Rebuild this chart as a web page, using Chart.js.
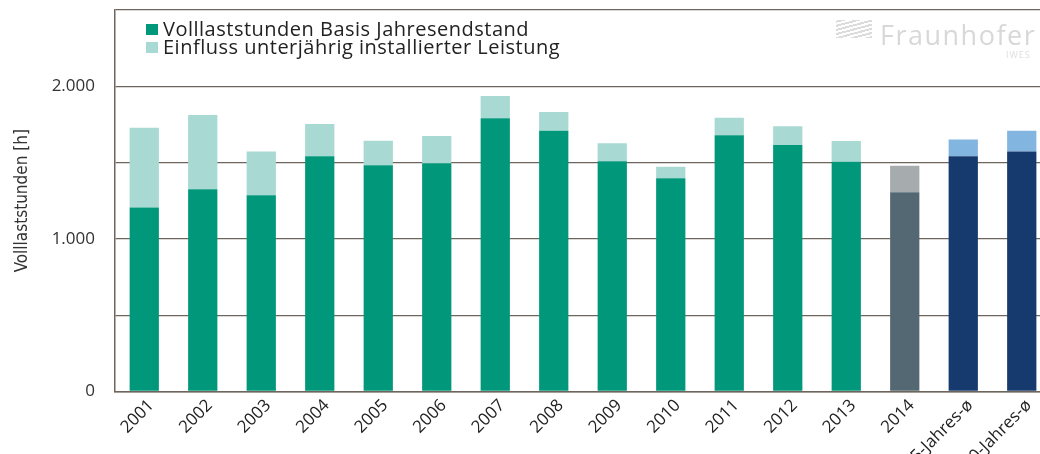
<!DOCTYPE html>
<html>
<head>
<meta charset="utf-8">
<script src="https://cdn.jsdelivr.net/npm/chart.js@4.4.1/dist/chart.umd.min.js"></script>
<style>
  html, body { margin: 0; padding: 0; background: #fff; overflow: hidden; width: 1040px; height: 454px; }
  #wrap { position: absolute; left: 0; top: 0; width: 1056px; height: 454px; }
  #legend { position: absolute; left: 146px; top: 20px; font-family: "Open Sans", sans-serif; font-size: 20px; letter-spacing: 0.5px; color: #222; line-height: 18px; }
  #legend div { display: flex; align-items: center; height: 18px; white-space: nowrap; }
  #legend span.sw { display: inline-block; width: 12px; height: 11px; margin-right: 5px; }
  #logo { position: absolute; left: 880px; top: 16px; font-family: "Open Sans", sans-serif; font-size: 27px; color: #d8d8d8; letter-spacing: 1.5px; }
  #iwes { position: absolute; left: 1006px; top: 48px; font-family: "Open Sans", sans-serif; font-size: 9px; color: #dedede; letter-spacing: 1px; }
  #stripes { position: absolute; left: 836px; top: 20px; width: 36px; height: 18px;
    background: repeating-linear-gradient(-15deg, #dcdcdc 0 2px, #fff 2px 4px); }
</style>
</head>
<body>
<div id="wrap"><canvas id="c" width="1056" height="454"></canvas></div>
<div id="legend">
  <div><span class="sw" style="background:#00977a"></span>Volllaststunden Basis Jahresendstand</div>
  <div><span class="sw" style="background:#a9d9d3"></span>Einfluss unterjährig installierter Leistung</div>
</div>
<div id="stripes"></div>
<div id="logo">Fraunhofer</div>
<div id="iwes">IWES</div>
<script>
const categories = ["2001","2002","2003","2004","2005","2006","2007","2008","2009","2010","2011","2012","2013","2014","5-Jahres-ø","10-Jahres-ø"];
const baseHours  = [1206,1325,1286,1541,1482,1496,1790,1709,1509,1398,1679,1616,1506,1306,1541,1572];
const extraHours = [522,487,286,212,162,178,146,122,117,74,115,122,136,174,111,137];
const yTicksShown = [0, 1000, 2000];

function kind(i) {
  const l = categories[i];
  if (l.indexOf("Jahres") >= 0) return "avg";
  if (l === "2014") return "cur";
  return "year";
}
const baseCol  = { year: "#00977a", cur: "#536872", avg: "#163a6e" };
const extraCol = { year: "#a9d9d3", cur: "#a6abae", avg: "#83b5e1" };

const gridColor = "#6e655d";

new Chart(document.getElementById("c"), {
  type: "bar",
  data: {
    labels: categories,
    datasets: [
      { label: "Volllaststunden Basis Jahresendstand", data: baseHours,
        backgroundColor: categories.map((_, i) => baseCol[kind(i)]) },
      { label: "Einfluss unterjährig installierter Leistung", data: extraHours,
        backgroundColor: categories.map((_, i) => extraCol[kind(i)]) }
    ]
  },
  options: {
    responsive: false,
    animation: false,
    layout: { padding: { top: 10, right: 5, left: 0, bottom: 0 } },
    datasets: { bar: { categoryPercentage: 1, barPercentage: 0.5 } },
    plugins: { legend: { display: false }, tooltip: { enabled: false }, title: { display: false } },
    scales: {
      x: {
        stacked: true,
        grid: { display: false, drawTicks: false },
        border: { display: true, color: gridColor, width: 1.5 },
        ticks: { font: { family: "Open Sans", size: 17 }, color: "#222", minRotation: 45, maxRotation: 45, padding: 4, labelOffset: 7, autoSkip: false },
        afterFit: s => { s.height = 62.5; }
      },
      y: {
        stacked: true,
        min: 0, max: 2500,
        ticks: {
          stepSize: 500,
          padding: 20,
          font: { family: "Open Sans", size: 17 },
          color: "#333",
          callback: v => yTicksShown.includes(v) ? v.toLocaleString("de-DE") : ""
        },
        grid: { color: gridColor, lineWidth: 1.3, drawTicks: false },
        border: { display: true, color: gridColor, width: 1.5 },
        title: { display: true, text: "Volllaststunden [h]", font: { family: "'DejaVu Sans Condensed', 'Liberation Sans', sans-serif", size: 17 }, color: "#333", padding: { top: 12, bottom: 0 } },
        afterFit: s => { s.width = 115; s.paddingTop = 0; s.paddingBottom = 0; }
      }
    }
  }
});
</script>
</body>
</html>
